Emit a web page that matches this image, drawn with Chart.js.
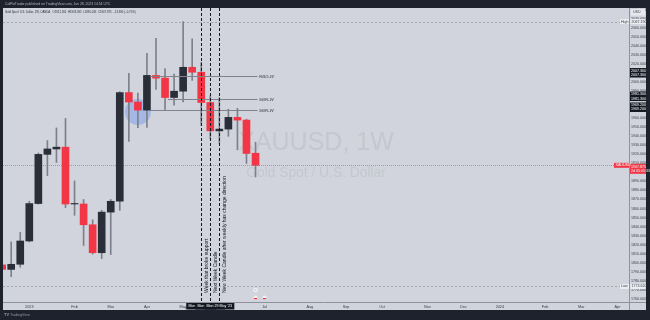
<!DOCTYPE html>
<html><head><meta charset="utf-8">
<script src="https://cdn.jsdelivr.net/npm/chart.js@4.4.0/dist/chart.umd.min.js"></script>
<style>html,body{margin:0;padding:0;background:#1e222d;overflow:hidden}canvas{display:block}</style>
</head><body>
<canvas id="c" width="650" height="320"></canvas>
<script>
// ---- data (weekly XAUUSD candles, week index 0 = Mon 2 Jan 2023) ----
const weekIndex = [-3,-2,-1,0,1,2,3,4,5,6,7,8,9,10,11,12,13,14,15,16,17,18,19,20,21,22,23,24,25];
const openP  = [1797.5,1792.5,1798.2,1824.0,1865.5,1920.0,1926.0,1928.0,1865.0,1865.0,1842.0,1811.0,1856.0,1868.0,1988.5,1978.0,1969.0,2007.5,2004.5,1983.0,1990.0,2016.5,2011.0,1977.5,1946.0,1948.0,1961.0,1958.0,1921.265];
const highP  = [1824.0,1823.0,1833.5,1868.0,1921.5,1935.3,1949.3,1959.8,1890.5,1870.0,1847.5,1858.0,1870.0,1989.5,2009.7,1988.0,2032.0,2048.7,2015.0,2009.0,2067.19,2048.0,2022.0,1985.0,1983.0,1970.0,1971.0,1959.0,1933.395];
const lowP   = [1773.62,1784.5,1795.0,1823.0,1865.0,1896.5,1911.0,1861.0,1852.5,1819.0,1809.5,1804.5,1809.0,1858.0,1934.3,1949.5,1950.0,1992.0,1969.0,1974.5,1978.0,2002.0,1952.0,1937.0,1932.0,1940.0,1925.0,1910.0,1895.035];
const closeP = [1792.5,1798.2,1824.0,1865.5,1920.0,1926.0,1928.0,1865.0,1865.0,1842.0,1811.0,1856.0,1868.0,1988.5,1978.0,1969.0,2007.5,2004.5,1983.0,1990.0,2016.5,2011.0,1977.5,1946.0,1948.0,1961.0,1958.0,1921.0,1907.875];
const tickWeeks  = [0,5,9,13,17,22,26,31,35,39,44,48,52,57,61,65];
const tickLabels = ['2023','Feb','Mar','Apr','May','Jun','Jul','Aug','Sep','Oct','Nov','Dec','2024','Feb','Mar','Apr'];
const levelPrices = [2007.36,1981.30,1969.20];
const levelStartWeeks = [13,15,13];
const levelLabels = ['RBD-W','SBR-W','SBR-W'];
const markerWeeks = [19,20,21];
const markerTexts = ['Week that broke support','Next Week Candle','New Week Candle after weekly has change direction'];
const markerDates = ["Mon 15 May '23","Mon 22 May '23","Mon 29 May '23"];
const rangeHigh = 2067.19, rangeLow = 1773.62;
const lastClose = 1907.875;
const circleWeek = 12, circlePrice = 1967;

// ---- styling ----
const UP = '#2a2e39', DOWN = '#f23645', WICK = '#7d808a';
const FONT = '"Liberation Sans", Arial, sans-serif';

const bodies = weekIndex.map((w,i)=>({x:w, y:[Math.min(openP[i],closeP[i]), Math.max(openP[i],closeP[i])+ (Math.abs(openP[i]-closeP[i])<1?0.6:0)]}));
const wicks  = weekIndex.map((w,i)=>({x:w, y:[lowP[i], highP[i]]}));
const bodyColors = weekIndex.map((w,i)=> closeP[i] >= openP[i] ? UP : DOWN);

function yPx(chart,p){return chart.scales.y.getPixelForValue(p);}
function xPx(chart,w){return chart.scales.x.getPixelForValue(w);}

const framePlugin = {
  id:'frame',
  beforeDraw(chart){
    const c = chart.ctx; c.save();
    c.fillStyle='#1e222d'; c.fillRect(0,0,650,320);
    c.fillStyle='#d1d4dc'; c.fillRect(3,8,643,302);
    c.strokeStyle='#8f929b'; c.lineWidth=1;
    c.beginPath(); c.moveTo(629.5,8); c.lineTo(629.5,310); c.moveTo(3,302.5); c.lineTo(646,302.5); c.stroke();
    c.fillStyle='#b2b5be'; c.font='3.4px '+FONT; c.textBaseline='middle';
    c.fillText('ColFloTrader published on TradingView.com, Jun 28, 2023 14:54 UTC', 5, 3.8);
    c.fillStyle='#2a2e39'; c.font='2.8px '+FONT;
    c.fillText('Gold Spot / U.S. Dollar, 1W, OANDA   O1921.265  H1933.395  L1895.035  C1907.875  \u221213.390 (\u22120.70%)', 5, 12.5);
    c.fillStyle='#9598a1'; c.font='bold 4px '+FONT; c.fillText('TV', 4, 315);
    c.font='3.6px '+FONT; c.fillText('TradingView', 10, 315);
    c.restore();
  },
  beforeDatasetsDraw(chart){
    const c = chart.ctx, a = chart.chartArea; c.save();
    c.beginPath(); c.rect(a.left,a.top,a.right-a.left,a.bottom-a.top); c.clip();
    const cx = (a.left+a.right)/2;
    c.fillStyle='#c4c7cf'; c.textAlign='center'; c.textBaseline='alphabetic';
    c.font='25px '+FONT; c.fillText('XAUUSD, 1W', cx, 150);
    c.font='13.8px '+FONT; c.fillText('Gold Spot / U.S. Dollar', cx, 177);
    c.strokeStyle='#a3a6af'; c.lineWidth=1; c.setLineDash([2,2]);
    [rangeHigh,rangeLow].forEach(p=>{const y=Math.round(yPx(chart,p))+0.5; c.beginPath(); c.moveTo(a.left,y); c.lineTo(a.right,y); c.stroke();});
    c.setLineDash([]);
    c.strokeStyle='rgba(242,54,69,0.55)'; c.setLineDash([1,1]);
    const yl = Math.round(yPx(chart,lastClose))+0.5; c.beginPath(); c.moveTo(a.left,yl); c.lineTo(a.right,yl); c.stroke();
    c.setLineDash([]);
    c.fillStyle='rgba(110,150,235,0.45)';
    c.beginPath(); c.arc(xPx(chart,circleWeek), yPx(chart,circlePrice), 13, 0, Math.PI*2); c.fill();
    c.restore();
  },
  afterDatasetsDraw(chart){
    const c = chart.ctx, a = chart.chartArea; c.save();
    const endX = xPx(chart, 25) + 2;
    c.strokeStyle='#80838d'; c.lineWidth=1;
    levelPrices.forEach((p,i)=>{
      const y = Math.round(yPx(chart,p))+0.5;
      c.beginPath(); c.moveTo(xPx(chart,levelStartWeeks[i])+3, y); c.lineTo(endX, y); c.stroke();
      c.fillStyle='#3a3d48'; c.font='italic 4.4px '+FONT; c.textBaseline='middle'; c.textAlign='left';
      c.fillText(levelLabels[i], endX+1.5, y);
    });
    c.strokeStyle='#131722'; c.setLineDash([3,2]);
    markerWeeks.forEach(w=>{const x=Math.round(xPx(chart,w))+0.5; c.beginPath(); c.moveTo(x,a.top); c.lineTo(x,a.bottom); c.stroke();});
    c.setLineDash([]);
    c.fillStyle='#131722'; c.font='5px '+FONT; c.textBaseline='middle'; c.textAlign='left';
    markerWeeks.forEach((w,i)=>{
      c.save(); c.translate(xPx(chart,w)+5.5, 293); c.rotate(-Math.PI/2); c.fillText(markerTexts[i],0,0); c.restore();
    });
    const ex = xPx(chart,25);
    c.strokeStyle='#ffffff'; c.lineWidth=0.8; c.beginPath(); c.arc(ex,290,1.8,0,Math.PI*2); c.stroke();
    [ex, ex+9].forEach(x=>{c.fillStyle='#f0f0f0'; c.beginPath(); c.arc(x,297.5,2,0,Math.PI*2); c.fill(); c.fillStyle=DOWN; c.fillRect(x-1.5,298,3,1.2);});
    c.restore();
  },
  afterDraw(chart){
    const c = chart.ctx, a = chart.chartArea; c.save();
    c.font='3.6px '+FONT; c.textBaseline='middle'; c.textAlign='left';
    c.fillStyle='#e6e8ee'; c.fillRect(631,8.5,14,7); c.fillStyle='#3a3d48'; c.fillText('USD',633,12);
    [[rangeHigh,'High'],[rangeLow,'Low']].forEach(([p,t])=>{
      const y=yPx(chart,p);
      c.fillStyle='#eceef2'; c.fillRect(620,y-2.5,9,5); c.fillRect(630.5,y-2.5,15,5);
      c.fillStyle='#3a3d48'; c.fillText(t,621,y); c.fillText(p.toFixed(3),631.5,y);
    });
    levelPrices.forEach(p=>{
      const y=yPx(chart,p);
      c.fillStyle='#131722'; c.fillRect(630,y-7.5,16,9.5);
      c.fillStyle='#ffffff'; c.fillText(p.toFixed(3),631,y-5); c.fillText(p.toFixed(3),631,y-0.5);
    });
    const yc=yPx(chart,lastClose);
    c.fillStyle=DOWN; c.fillRect(630,yc-1.5,16,10); c.fillRect(614,yc-2.5,15,5);
    c.fillStyle='#ffffff'; c.fillText(lastClose.toFixed(3),631,yc+1.2); c.fillText('2d 05:05:33',631,yc+5.5);
    c.fillText('XAUUSD',615.5,yc);
    c.textAlign='center';
    markerWeeks.forEach((w,i)=>{
      const x=xPx(chart,w);
      c.fillStyle='#131722'; c.fillRect(x-15,303,30,6.5);
      c.fillStyle='#ffffff'; c.fillText(markerDates[i],x,306.3);
    });
    c.restore();
  }
};

new Chart(document.getElementById('c'), {
  type:'bar',
  data:{ datasets:[
    {label:'body', data:bodies, backgroundColor:bodyColors, barThickness:7, borderWidth:0, grouped:false},
    {label:'wick', data:wicks, backgroundColor:WICK, barThickness:1, borderWidth:0, grouped:false}
  ]},
  options:{
    responsive:false, animation:false, devicePixelRatio:1,
    layout:{padding:{left:3,top:8,right:4,bottom:10}},
    plugins:{legend:{display:false}, tooltip:{enabled:false}},
    scales:{
      x:{ type:'linear', min:-2.906, max:66.27, offset:false,
          grid:{display:false, drawTicks:false}, border:{display:false},
          afterBuildTicks(ax){ ax.ticks = tickWeeks.map(v=>({value:v})); },
          afterFit(ax){ ax.height = 8; },
          ticks:{ autoSkip:false, maxRotation:0, padding:2.5, color:'#3a3d48', font:{size:3.8, family:FONT},
                  callback:(v)=>{const k=tickWeeks.indexOf(v); return k>=0?tickLabels[k]:'';} } },
      y:{ type:'linear', position:'right', min:1756.4, max:2082.2,
          grid:{display:false, drawTicks:false}, border:{display:false},
          afterFit(ax){ ax.width = 17; },
          ticks:{ stepSize:10, autoSkip:false, includeBounds:false, padding:2, color:'#3a3d48', font:{size:3.6, family:FONT},
                  callback:(v)=>v.toFixed(3) } }
    }
  },
  plugins:[framePlugin]
});
</script>
</body></html>
